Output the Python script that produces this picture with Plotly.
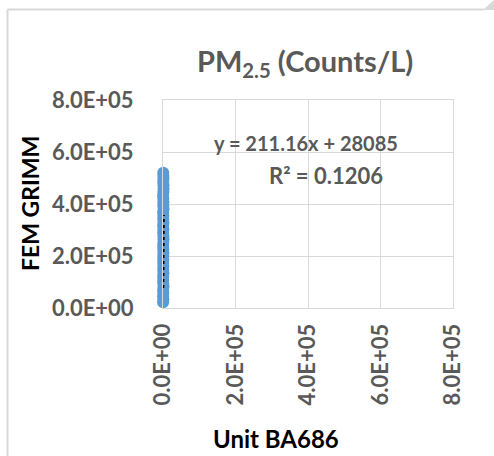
import plotly.graph_objects as go

# ---- data ----
unit_ba686 = [232, 1180, 310, 905, 415, 1500, 480, 760, 520, 1330, 610, 1040,
              655, 850, 700, 1260, 805, 560, 960, 1420, 1110, 640, 1205, 370,
              1365, 720, 1010, 450, 1560, 830, 1150, 940, 290, 1060, 1480, 1310,
              600, 1250, 980, 700]
fem_grimm = [22000, 33000, 45000, 58000, 70000, 83000, 96000, 108000, 121000,
             134000, 147000, 160000, 173000, 186000, 199000, 212000, 225000,
             238000, 251000, 264000, 277000, 290000, 303000, 316000, 329000,
             342000, 355000, 368000, 381000, 394000, 407000, 420000, 433000,
             446000, 459000, 472000, 485000, 497000, 509000, 520000]
slope = 211.16
intercept = 28085
r_squared = 0.1206

tick_vals = [0, 200000, 400000, 600000, 800000]
tick_text = ["0.0E+00", "2.0E+05", "4.0E+05", "6.0E+05", "8.0E+05"]

# ---- geometry helpers (pixel -> paper) ----
W, H = 494, 456
L, R, T, B = 163, 453, 100, 308


def px(x):
    return (x - L) / (R - L)


def py(y):
    return (B - y) / (B - T)


FONT = "Lato"
GRAY = "#595959"
GRID = "#d9d9d9"

fig = go.Figure()
fig.add_trace(go.Scatter(
    x=unit_ba686, y=fem_grimm, mode="markers", cliponaxis=False,
    marker=dict(color="#5b9bd5", size=12, line=dict(width=0)),
    showlegend=False, hoverinfo="skip"))

tx = [min(unit_ba686), max(unit_ba686)]
ty = [slope * v + intercept for v in tx]
fig.add_trace(go.Scatter(
    x=tx, y=ty, mode="lines", cliponaxis=False,
    line=dict(color="black", width=2.5, dash="dot"),
    showlegend=False, hoverinfo="skip"))

axis_common = dict(
    range=[0, 800000], tickvals=tick_vals, ticktext=tick_text,
    showgrid=True, gridcolor=GRID, gridwidth=1,
    zeroline=False, showline=True, mirror=True, linecolor=GRID, linewidth=1,
    ticks="", tickfont=dict(family=FONT, size=22, color=GRAY, weight="bold"),
    fixedrange=True,
)

fig.update_layout(
    width=W, height=H,
    margin=dict(l=L, r=W - R, t=T, b=H - B, pad=0),
    paper_bgcolor="white", plot_bgcolor="white",
    xaxis=dict(**axis_common, tickangle=-90, ticklabelstandoff=6),
    yaxis=dict(**axis_common, ticklabelstandoff=24),
    font=dict(family=FONT),
)

annotations = [
    dict(x=px(305), y=py(62), text="PM<sub>2.5</sub> (Counts/L)",
         font=dict(family=FONT, size=29, color=GRAY, weight="bold")),
    dict(x=px(30), y=py(204), text="FEM GRIMM", textangle=-90,
         font=dict(family=FONT, size=23, color="black", weight="bold")),
    dict(x=px(276), y=py(438), text="Unit BA686",
         font=dict(family=FONT, size=24, color="black", weight="bold")),
    dict(x=px(306), y=py(143), text=f"y = {slope}x + {intercept}",
         font=dict(family=FONT, size=20, color=GRAY, weight="bold")),
    dict(x=px(326), y=py(175), text=f"R² = {r_squared}",
         font=dict(family=FONT, size=22, color=GRAY, weight="bold")),
]
for a in annotations:
    a.update(xref="paper", yref="paper", xanchor="center", yanchor="middle",
             showarrow=False)
fig.update_layout(annotations=annotations)

# chart frame: left and top border with folded corner
fig.add_shape(type="line", xref="paper", yref="paper",
              x0=px(7.5), x1=px(7.5), y0=py(9.5), y1=py(460),
              line=dict(color=GRID, width=2))
fig.add_shape(type="line", xref="paper", yref="paper",
              x0=px(7.5), x1=px(484), y0=py(9.5), y1=py(9.5),
              line=dict(color=GRID, width=2))
fig.add_shape(type="path", xref="paper", yref="paper",
              path=f"M {px(483)} {py(10)} L {px(495)} {py(10)} L {px(495)} {py(-1)} Z",
              fillcolor=GRID, line=dict(width=0))

fig.write_html("out.html")
